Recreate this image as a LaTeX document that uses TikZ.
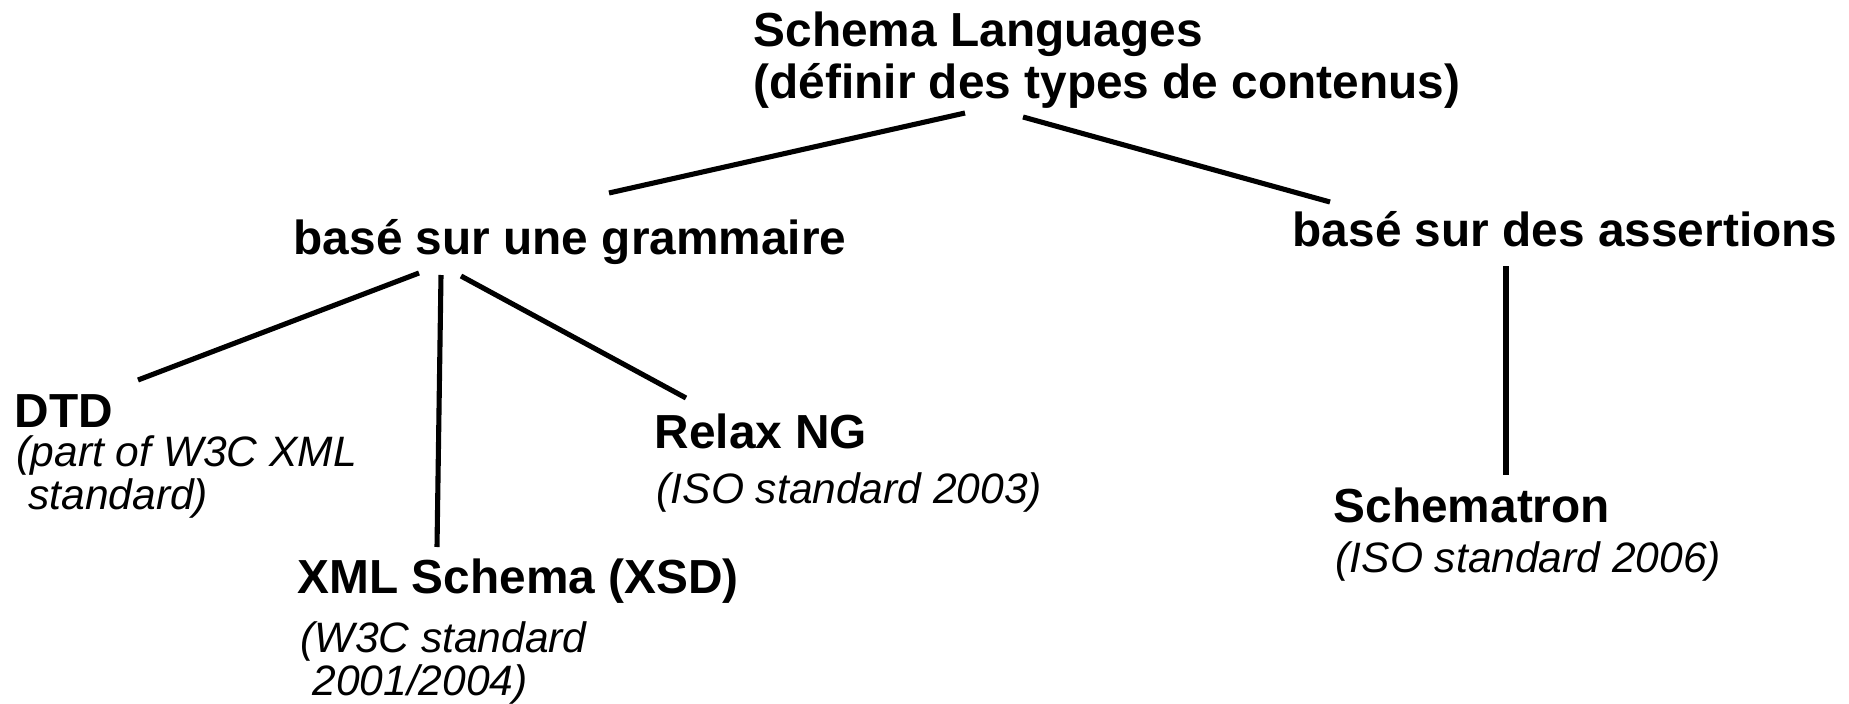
\documentclass[tikz,border=0pt]{standalone}
\usepackage{fontspec}
\setmainfont{Liberation Sans}
\usetikzlibrary{calc}
\tikzset{
  head/.style={anchor=base west, inner sep=0pt, align=left,
    font=\bfseries\fontsize{13.6}{14.8}\selectfont},
  note/.style={anchor=base west, inner sep=0pt, align=left,
    font=\itshape\fontsize{12.1}{12.1}\selectfont},
  branch/.style={draw=black, line width=1.45pt}
}

\begin{document}
\begin{tikzpicture}[x=0.1mm, y=-0.1mm]
  \useasboundingbox (0,0) rectangle (1849,704);
  % labels (multi-line ones sit on their last baseline)
  \node[head] (root) at (753,99) {Schema Languages\\(définir des types de contenus)};
  \node[head] (gram) at (293,254) {basé sur une grammaire};
  \node[head] (assert) at (1292,246) {basé sur des assertions};
  \node[head] (dtd) at (14,427) {DTD};
  \node[note] (dtdnote) at (16,509) {(part of W3C XML\\\hspace*{.278em}standard)};
  \node[head] (xsd) at (297,593) {XML Schema (XSD)};
  \node[note] (xsdnote) at (300,695) {(W3C standard\\\hspace*{.278em}2001/2004)};
  \node[head] (relax) at (654,448) {Relax NG};
  \node[note] (relaxnote) at (656,503) {(ISO standard 2003)};
  \node[head] (schtron) at (1333,522) {Schematron};
  \node[note] (schtronnote) at (1335,572) {(ISO standard 2006)};
  % line ends
  \coordinate (rootL) at (965,113);
  \coordinate (rootR) at (1023,117);
  \coordinate (gramUp) at (609,193);
  \coordinate (assertUp) at (1330,202);
  \coordinate (gramL) at (419,273);
  \coordinate (gramM) at (441,275);
  \coordinate (gramR) at (461,276);
  \coordinate (dtdUp) at (138,380);
  \coordinate (xsdUp) at (437,547);
  \coordinate (relaxUp) at (686,398);
  \coordinate (assertDn) at (1506,266);
  \coordinate (schtronUp) at (1506,475);
  % branches
  \draw[branch] (rootL) -- (gramUp);
  \draw[branch] (rootR) -- (assertUp);
  \draw[branch] (gramL) -- (dtdUp);
  \draw[branch] (gramM) -- (xsdUp);
  \draw[branch] (gramR) -- (relaxUp);
  \draw[branch] (assertDn) -- (schtronUp);
\end{tikzpicture}
\end{document}
